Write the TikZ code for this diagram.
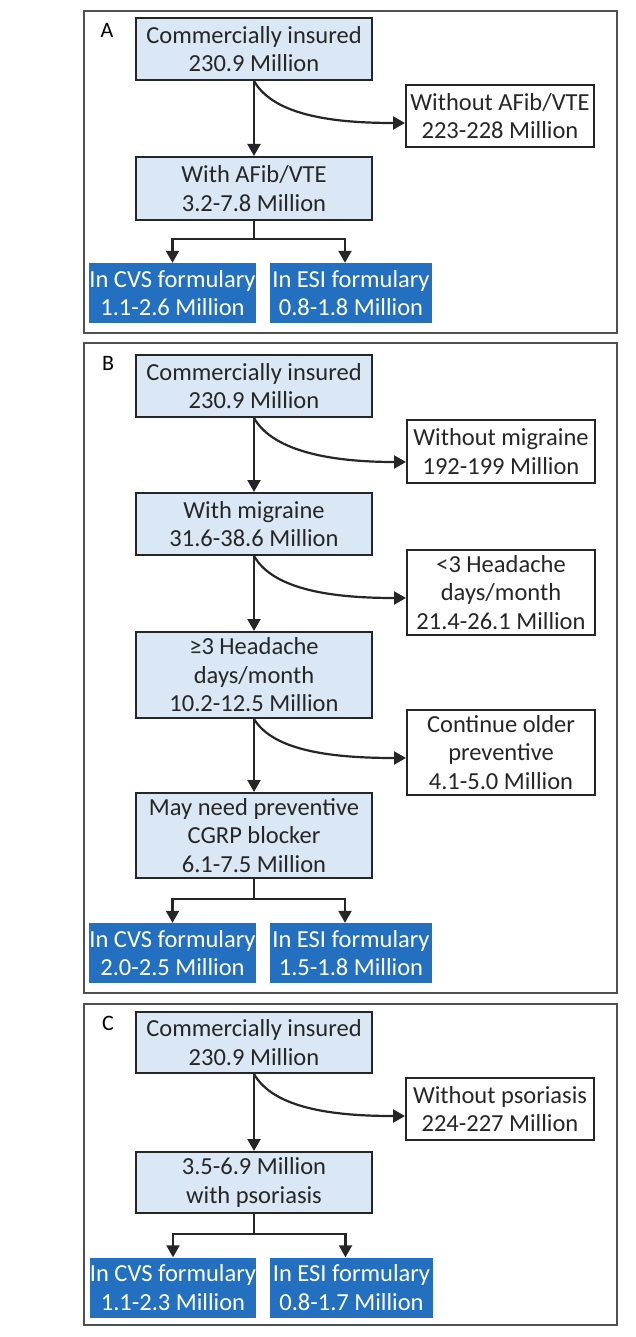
\documentclass[tikz,border=0pt]{standalone}
\usepackage{fontspec}
\setmainfont{Carlito}
\usetikzlibrary{arrows.meta,calc}
\definecolor{lightbox}{HTML}{DAE8F5}
\definecolor{darkbox}{HTML}{2470C0}
\definecolor{linegray}{HTML}{262626}
\definecolor{framegray}{HTML}{505050}
\begin{document}
\begin{tikzpicture}[x=1pt,y=-1pt,
 every node/.style={font=\fontsize{24.5}{28.5}\selectfont, align=center, inner sep=0pt, text=linegray},
 mainbox/.style={draw=linegray, line width=2pt, fill=lightbox, minimum width=236pt},
 sidebox/.style={draw=linegray, line width=2pt, fill=white, minimum width=188pt},
 formbox/.style={fill=darkbox, text=white, minimum height=60pt},
 conn/.style={draw=linegray, line width=2.2pt},
 arr/.style={conn, -{Triangle[width=13pt,length=12pt]}},
 frame/.style={draw=framegray, line width=2.5pt},
 panellabel/.style={font=\fontsize{22}{26}\selectfont, text=black}
]
\useasboundingbox (0,0) rectangle (635,1337);

% ---------------- Panel A ----------------
\draw[frame] (84,11) rectangle (617,333);
\node[panellabel] (la) at (107,30) {A};
\node[mainbox, minimum height=62pt] (a1) at (254,49) {Commercially insured\\230.9 Million};
\node[sidebox, minimum height=62pt] (a2) at (500,116) {Without AFib/VTE\\223-228 Million};
\node[mainbox, minimum height=63pt] (a3) at (254,188.5) {With AFib/VTE\\3.2-7.8 Million};
\node[formbox, minimum width=161pt] (a4) at (172.5,293) {In CVS formulary\\1.1-2.6 Million};
\node[formbox, minimum width=162pt] (a5) at (351,293) {In ESI formulary\\0.8-1.8 Million};
\draw[arr] (a1.south) -- (a3.north);
\draw[arr] (a1.south) .. controls ($(a1.south)+(20,35)$) and ($(a2.west |- a1.south)+(-70,42)$) .. ($(a2.west |- a1.south)+(0,42)$);
\draw[conn] (a3.south) -- ++(0,18) coordinate (ab);
\draw[arr] (ab) -| (a4.north);
\draw[arr] (ab) -| ([xshift=-6pt]a5.north);

% ---------------- Panel B ----------------
\draw[frame] (84,343) rectangle (617,993);
\node[panellabel] (lb) at (108,363) {B};
\node[mainbox, minimum height=62pt] (b1) at (254,386) {Commercially insured\\230.9 Million};
\node[sidebox, minimum height=63pt] (b2) at (501,451.5) {Without migraine\\192-199 Million};
\node[mainbox, minimum height=62pt] (b3) at (254,524) {With migraine\\31.6-38.6 Million};
\node[sidebox, minimum height=85pt] (b4) at (501,592.5) {<3 Headache\\days/month\\21.4-26.1 Million};
\node[mainbox, minimum height=86pt] (b5) at (254,675) {≥3 Headache\\days/month\\10.2-12.5 Million};
\node[sidebox, minimum height=85pt] (b6) at (501,752.5) {Continue older\\preventive\\4.1-5.0 Million};
\node[mainbox, minimum height=85pt] (b7) at (254,835.5) {May need preventive\\CGRP blocker\\6.1-7.5 Million};
\node[formbox, minimum width=161pt] (b8) at (172.5,953) {In CVS formulary\\2.0-2.5 Million};
\node[formbox, minimum width=162pt] (b9) at (351,953) {In ESI formulary\\1.5-1.8 Million};
\draw[arr] (b1.south) -- (b3.north);
\draw[arr] (b1.south) .. controls ($(b1.south)+(20,35)$) and ($(b2.west |- b1.south)+(-70,44)$) .. ($(b2.west |- b1.south)+(0,44)$);
\draw[arr] (b3.south) -- (b5.north);
\draw[arr] (b3.south) .. controls ($(b3.south)+(20,35)$) and ($(b4.west |- b3.south)+(-70,42)$) .. ($(b4.west |- b3.south)+(0,42)$);
\draw[arr] (b5.south) -- (b7.north);
\draw[arr] (b5.south) .. controls ($(b5.south)+(20,33)$) and ($(b6.west |- b5.south)+(-70,39)$) .. ($(b6.west |- b5.south)+(0,39)$);
\draw[conn] (b7.south) -- ++(0,20) coordinate (bb);
\draw[arr] (bb) -| (b8.north);
\draw[arr] (bb) -| ([xshift=-6pt]b9.north);

% ---------------- Panel C ----------------
\draw[frame] (84,1004) rectangle (617,1325);
\node[panellabel] (lc) at (108,1023) {C};
\node[mainbox, minimum height=61pt] (c1) at (254,1042.5) {Commercially insured\\230.9 Million};
\node[sidebox, minimum height=62pt] (c2) at (500,1109) {Without psoriasis\\224-227 Million};
\node[mainbox, minimum height=61pt] (c3) at (254,1182.5) {3.5-6.9 Million\\with psoriasis};
\node[formbox, minimum width=162pt] (c4) at (173,1287.5) {In CVS formulary\\1.1-2.3 Million};
\node[formbox, minimum width=163pt] (c5) at (351.5,1287.5) {In ESI formulary\\0.8-1.7 Million};
\draw[arr] (c1.south) -- (c3.north);
\draw[arr] (c1.south) .. controls ($(c1.south)+(20,35)$) and ($(c2.west |- c1.south)+(-70,42)$) .. ($(c2.west |- c1.south)+(0,42)$);
\draw[conn] (c3.south) -- ++(0,20) coordinate (cb);
\draw[arr] (cb) -| (c4.north);
\draw[arr] (cb) -| ([xshift=-6pt]c5.north);
\end{tikzpicture}
\end{document}
